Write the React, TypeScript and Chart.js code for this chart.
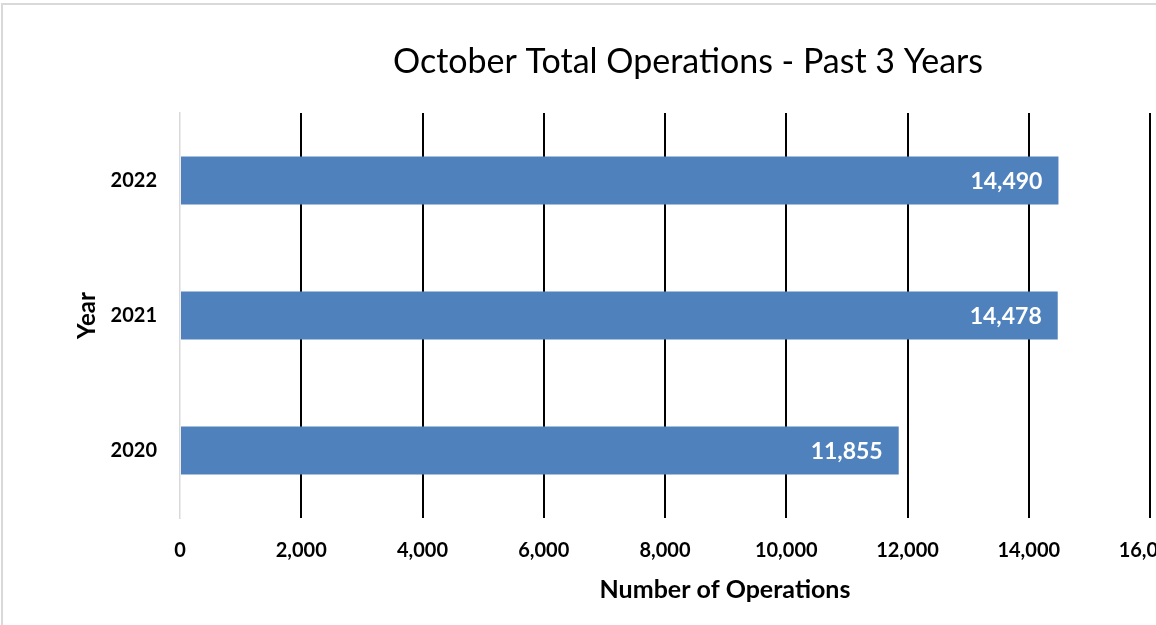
import React, { useEffect, useRef } from "react";
import { Chart, registerables } from "chart.js";

Chart.register(...registerables);

const years = ["2020", "2021", "2022"];
const operations = [11855, 14478, 14490];
const xMin = 0;
const xMax = 16000;
const xStep = 2000;
const chartTitle = "October Total Operations - Past 3 Years";
const xTitle = "Number of Operations";
const yTitle = "Year";

const FONT = "Lato, 'Open Sans', sans-serif";
const fmt = (v: number) => Number(v).toLocaleString("en-US");

const labelsPlugin = {
  id: "barValueLabels",
  afterDatasetsDraw(chart: any) {
    const ctx = chart.ctx;
    const meta = chart.getDatasetMeta(0);
    const ds = chart.data.datasets[0];
    ctx.save();
    ctx.font = `bold 23px ${FONT}`;
    ctx.fillStyle = "#ffffff";
    ctx.textAlign = "right";
    ctx.textBaseline = "middle";
    meta.data.forEach((bar: any, i: number) => {
      ctx.fillText(fmt(ds.data[i]), bar.x - 16, bar.y + 1);
    });
    ctx.restore();
  },
  afterDraw(chart: any) {
    const ctx = chart.ctx;
    const xs = chart.scales.x;
    ctx.save();
    ctx.font = `bold 25px ${FONT}`;
    ctx.fillStyle = "#000000";
    ctx.textAlign = "center";
    ctx.textBaseline = "middle";
    const cx = (xs.left + xs.right) / 2 + 60;
    ctx.fillText(xTitle, cx, xs.bottom - 55);
    ctx.restore();
  },
};

export default function App() {
  const canvasRef = useRef<HTMLCanvasElement | null>(null);

  useEffect(() => {
    if (!canvasRef.current) return;
    const chart = new Chart(canvasRef.current, {
      type: "bar",
      data: {
        labels: years,
        datasets: [
          {
            label: xTitle,
            data: operations,
            backgroundColor: "#4F81BD",
            borderWidth: 0,
            categoryPercentage: 1,
            barPercentage: 0.356,
          },
        ],
      },
      plugins: [labelsPlugin],
      options: {
        indexAxis: "y",
        animation: false,
        responsive: false,
        maintainAspectRatio: false,
        color: "#000",
        layout: { padding: 0 },
        plugins: {
          legend: { display: false },
          tooltip: { enabled: false },
          title: {
            display: true,
            text: chartTitle,
            color: "#000",
            font: { family: FONT, size: 34, weight: "normal" },
            padding: { top: 36.6, bottom: 30.6 },
          },
        },
        scales: {
          x: {
            type: "linear",
            min: xMin,
            max: xMax,
            afterFit: (scale: any) => {
              scale.height = 127;
            },
            ticks: {
              stepSize: xStep,
              padding: 21,
              color: "#000",
              font: { family: FONT, size: 20, weight: "bold" },
              callback: (v: any) => fmt(v),
              maxRotation: 0,
              autoSkip: false,
            },
            grid: {
              drawTicks: false,
              lineWidth: 2,
              color: (c: any) => (c.index === 0 ? "rgba(0,0,0,0)" : "#000000"),
            },
            border: { display: false },
            title: { display: false },
          },
          y: {
            type: "category",
            reverse: true,
            afterFit: (scale: any) => {
              scale.width = 177;
            },
            ticks: {
              padding: 23,
              color: "#000",
              font: { family: FONT, size: 20, weight: "bold" },
            },
            grid: { display: false, drawTicks: false },
            border: { display: true, color: "#d9d9d9", width: 1.5 },
            title: {
              display: true,
              text: yTitle,
              color: "#000",
              font: { family: FONT, size: 24, weight: "bold" },
              padding: { top: 69.6, bottom: 0 },
            },
          },
          rightSpace: {
            type: "linear",
            position: "right",
            display: true,
            afterFit: (scale: any) => {
              scale.width = 223;
            },
            ticks: { display: false },
            grid: { display: false, drawTicks: false },
            border: { display: false },
          },
        },
      },
    } as any);
    return () => chart.destroy();
  }, []);

  return (
    <div
      style={{
        position: "absolute",
        left: 0,
        top: 0,
        width: 1156,
        height: 625,
        overflow: "hidden",
        background: "#fff",
      }}
    >
      <div
        style={{
          position: "absolute",
          left: 1,
          top: 3,
          width: 1370,
          height: 640,
          border: "2px solid #d9d9d9",
          background: "#fff",
        }}
      >
        <canvas
          ref={canvasRef}
          width={1370}
          height={640}
          style={{ display: "block", width: 1370, height: 640 }}
        />
      </div>
    </div>
  );
}
